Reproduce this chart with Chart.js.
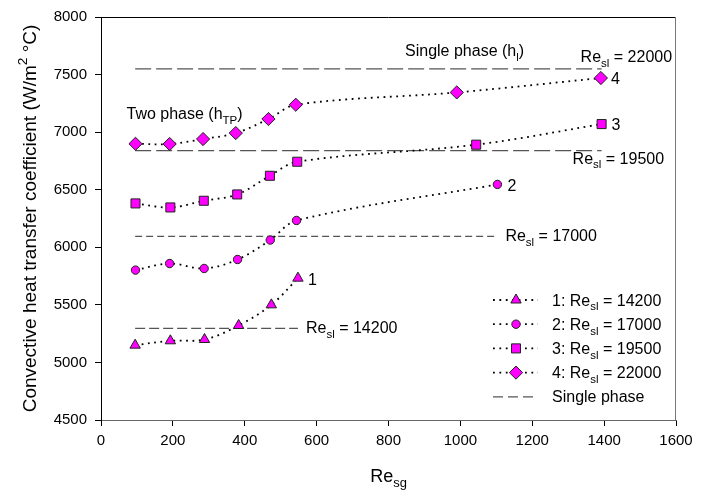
<!DOCTYPE html>
<html lang="en">
<head>
<meta charset="UTF-8">
<title>Convective heat transfer coefficient vs Re_sg</title>
<script src="https://cdn.jsdelivr.net/npm/chart.js"></script>
<style>
  * { margin: 0; padding: 0; box-sizing: border-box; }
  body { background: #fff; width: 706px; height: 491px; overflow: hidden; }
</style>
</head>
<body>
<canvas id="htcChart" width="706" height="491"></canvas>
<script>
// two-phase runs: superficial gas Reynolds number vs heat transfer coefficient
const resSg1 = [95, 193, 288, 383, 474, 548];
const htc1   = [5150, 5188, 5199, 5321, 5500, 5732];
const resSg2 = [96, 191, 287, 380, 471, 544, 1103];
const htc2   = [5802, 5859, 5816, 5894, 6063, 6233, 6546];
const resSg3 = [96, 193, 286, 379, 470, 546, 1044, 1393];
const htc3   = [6381, 6346, 6404, 6459, 6621, 6743, 6891, 7070];
const resSg4 = [96, 191, 284, 375, 466, 542, 990, 1391];
const htc4   = [6899, 6897, 6940, 6992, 7114, 7238, 7345, 7470];
const runRe  = ['14200', '17000', '19500', '22000'];

// single phase reference levels (h_l) and the Re_sg span they are drawn over
const singleH     = [5295, 6095, 6840, 7550];
const singleStart = [95, 95, 95, 95];
const singleEnd   = [548, 1103, 1393, 1393];

const xTicks = [0, 200, 400, 600, 800, 1000, 1200, 1400, 1600];
const yTicks = [4500, 5000, 5500, 6000, 6500, 7000, 7500, 8000];

const FONT = "'Liberation Sans', Arial, sans-serif";
const MAGENTA = '#ff00ff';
const markers = [
  { pointStyle: 'triangle', radius: 6 },
  { pointStyle: 'circle',   radius: 4.2 },
  { pointStyle: 'rect',     radius: 6.4 },
  { pointStyle: 'rectRot',  radius: 6.6 }
];
const dashes = [[10, 4], [7, 4], [16, 5], [16, 5]];

const zip = (xs, ys) => xs.map((x, i) => ({ x, y: ys[i] }));

const datasets = [];
[[resSg1, htc1], [resSg2, htc2], [resSg3, htc3], [resSg4, htc4]].forEach(([xs, ys], i) => {
  datasets.push({
    label: (i + 1) + ': Re_sl = ' + runRe[i],
    data: zip(xs, ys),
    borderColor: '#000',
    borderWidth: 1.8,
    borderDash: [1.8, 4.6],
    tension: 0.35,
    pointStyle: markers[i].pointStyle,
    pointRadius: markers[i].radius,
    pointBackgroundColor: MAGENTA,
    pointBorderColor: '#222',
    pointBorderWidth: 1,
    order: 0
  });
});
singleH.forEach((h, i) => {
  datasets.push({
    label: 'Single phase ' + runRe[i],
    data: [{ x: singleStart[i], y: h }, { x: singleEnd[i], y: h }],
    borderColor: '#555',
    borderWidth: 1.3,
    borderDash: dashes[i],
    pointRadius: 0,
    order: 1
  });
});

// text with sub/superscript pieces: [text, 'sub' | 'sup' | undefined]
function richWidth(ctx, parts, size) {
  let w = 0;
  parts.forEach(([t, k]) => {
    ctx.font = (k ? size * 0.72 : size) + 'px ' + FONT;
    w += ctx.measureText(t).width;
  });
  return w;
}
function richText(ctx, parts, x, y, size) {
  ctx.textBaseline = 'alphabetic';
  ctx.textAlign = 'left';
  parts.forEach(([t, k]) => {
    ctx.font = (k ? size * 0.72 : size) + 'px ' + FONT;
    const dy = k === 'sub' ? size * 0.3 : k === 'sup' ? -size * 0.45 : 0;
    ctx.fillText(t, x, y + dy);
    x += ctx.measureText(t).width;
  });
}

const annotate = {
  id: 'annotate',
  afterDatasetsDraw(chart) {
    const { ctx, chartArea: a, scales: { x, y } } = chart;
    ctx.save();
    ctx.fillStyle = '#000';

    // frame top and right
    ctx.lineWidth = 1;
    ctx.strokeStyle = '#000';
    ctx.beginPath(); ctx.moveTo(a.left, a.top + 0.5); ctx.lineTo(a.right, a.top + 0.5); ctx.stroke();
    ctx.strokeStyle = '#777';
    ctx.beginPath(); ctx.moveTo(a.right - 0.5, a.top); ctx.lineTo(a.right - 0.5, a.bottom); ctx.stroke();

    // run numbers next to the last point of each curve
    [[resSg1, htc1], [resSg2, htc2], [resSg3, htc3], [resSg4, htc4]].forEach(([xs, ys], i) => {
      const n = xs.length - 1;
      ctx.font = '16px ' + FONT;
      ctx.textBaseline = 'middle';
      ctx.fillText(String(i + 1), x.getPixelForValue(xs[n]) + 10, y.getPixelForValue(ys[n]) + 2);
    });

    // Re_sl tags on the single phase lines
    const tagOffset = [[8, 5], [8, 5], [-29, 13], [-21, -7]];
    singleH.forEach((h, i) => {
      const px = x.getPixelForValue(singleEnd[i]) + tagOffset[i][0];
      const py = y.getPixelForValue(h) + tagOffset[i][1];
      richText(ctx, [['Re'], ['sl', 'sub'], [' = ' + runRe[i]]], px, py, 16);
    });

    richText(ctx, [['Single phase (h'], ['l', 'sub'], [')']], x.getPixelForValue(846), y.getPixelForValue(7658), 16);
    richText(ctx, [['Two phase (h'], ['TP', 'sub'], [')']], x.getPixelForValue(71), y.getPixelForValue(7116), 16);

    // legend
    const lx = a.right - 183, tx = a.right - 124;
    let ly = a.bottom - 120;
    for (let i = 0; i < 5; i++) {
      ctx.lineWidth = i < 4 ? 1.8 : 1.3;
      ctx.strokeStyle = i < 4 ? '#000' : '#555';
      ctx.setLineDash(i < 4 ? [1.8, 4.6] : [10, 5]);
      ctx.beginPath(); ctx.moveTo(lx, ly); ctx.lineTo(lx + 45, ly); ctx.stroke();
      ctx.setLineDash([]);
      if (i < 4) {
        ctx.fillStyle = MAGENTA;
        ctx.strokeStyle = '#222';
        ctx.lineWidth = 1;
        Chart.helpers.drawPoint(ctx, { pointStyle: markers[i].pointStyle, radius: markers[i].radius, rotation: 0, borderWidth: 1 }, lx + 23, ly);
        ctx.fillStyle = '#000';
        richText(ctx, [[(i + 1) + ': Re'], ['sl', 'sub'], [' = ' + runRe[i]]], tx, ly + 5.5, 16);
      } else {
        richText(ctx, [['Single phase']], tx, ly + 5.5, 16);
      }
      ly += 24.2;
    }

    // axis titles
    const xt = [['Re'], ['sg', 'sub']];
    richText(ctx, xt, (a.left + a.right) / 2 - richWidth(ctx, xt, 18) / 2, 482, 18);

    const yt = [['Convective heat transfer coefficient (W/m'], ['2', 'sup'], [' \u00b0C)']];
    ctx.translate(36, (a.top + a.bottom) / 2);
    ctx.rotate(-Math.PI / 2);
    richText(ctx, yt, -richWidth(ctx, yt, 19) / 2, 0, 19);
    ctx.restore();
  }
};

new Chart(document.getElementById('htcChart'), {
  type: 'line',
  data: { datasets },
  options: {
    responsive: false,
    animation: false,
    layout: { padding: { left: 0, top: 17, right: 30, bottom: 0 } },
    plugins: { legend: { display: false }, tooltip: { enabled: false } },
    scales: {
      x: {
        type: 'linear', min: 0, max: 1600,
        afterBuildTicks: s => { s.ticks = xTicks.map(v => ({ value: v })); },
        ticks: { color: '#000', font: { family: FONT, size: 15 }, padding: 6, maxRotation: 0, callback: v => String(v) },
        grid: { drawOnChartArea: false, tickLength: 6, color: '#000' },
        border: { color: '#666' },
        afterFit: s => { s.height = 71; }
      },
      y: {
        type: 'linear', min: 4500, max: 8000,
        afterBuildTicks: s => { s.ticks = yTicks.map(v => ({ value: v })); },
        ticks: { color: '#000', font: { family: FONT, size: 15 }, padding: 8, callback: v => String(v) },
        grid: { drawOnChartArea: false, tickLength: 6, color: '#000' },
        border: { color: '#000' },
        afterFit: s => { s.width = 101; }
      }
    }
  },
  plugins: [annotate]
});
</script>
</body>
</html>
